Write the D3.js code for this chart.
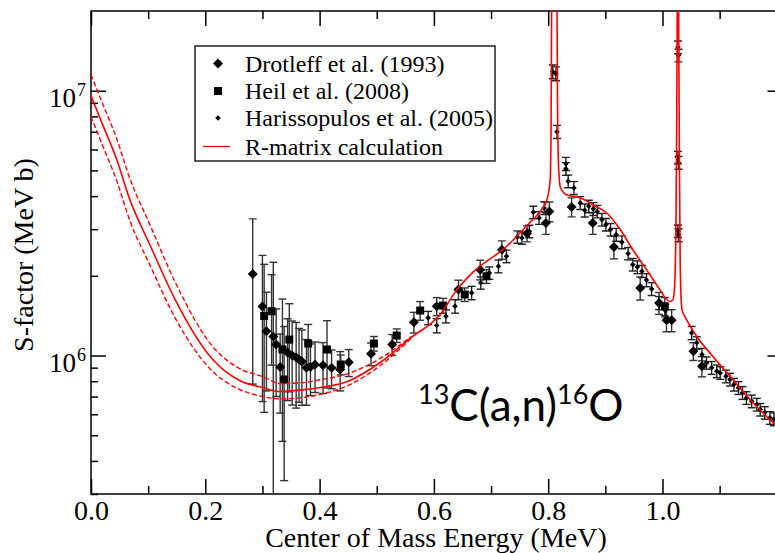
<!DOCTYPE html>
<html>
<head>
<meta charset="utf-8">
<script src="https://cdn.jsdelivr.net/npm/d3@7"></script>
<style>
  body { margin: 0; background: #fff; }
  svg { display: block; }
</style>
</head>
<body>
<svg id="chart" width="775" height="553"></svg>
<script>
// S-factor values are in units of 10^6 MeV b, energies in MeV

// Drotleff et al. (1993)
var drot_E = [0.283, 0.300, 0.307, 0.319, 0.324, 0.331, 0.344, 0.352, 0.359, 0.364, 0.369, 0.377, 0.384, 0.392, 0.406, 0.421, 0.436, 0.451, 0.490, 0.527, 0.565, 0.605, 0.643, 0.681, 0.719, 0.763, 0.796, 0.802, 0.841, 0.878, 0.915, 0.961, 0.994, 1.007, 1.016, 1.054, 1.069];
var drot_S = [2.03, 1.53, 1.235, 1.18, 1.10, 0.906, 1.026, 1.0, 0.983, 0.966, 0.949, 0.899, 0.906, 0.925, 0.919, 0.899, 0.885, 0.943, 1.015, 1.10, 1.336, 1.535, 1.775, 2.11, 2.51, 2.887, 3.168, 3.50, 3.64, 3.168, 2.568, 1.80, 1.58, 1.36, 1.36, 1.038, 0.911];
var drot_err = [1.25, 0.86, 0.5, 1.07, 0.4, 0.3, 0.35, 0.35, 0.35, 0.3, 0.3, 0.25, 0.2, 0.2, 0.2, 0.15, 0.15, 0.11, 0.1, 0.1, 0.12, 0.12, 0.15, 0.18, 0.2, 0.2, 0.3, 0.3, 0.3, 0.3, 0.25, 0.18, 0.15, 0.13, 0.13, 0.08, 0.08];

// Heil et al. (2008)
var heil_E = [0.303, 0.316, 0.335, 0.338, 0.347, 0.380, 0.413, 0.437, 0.495, 0.535, 0.576, 0.616, 0.654, 0.692, 1.004];
var heil_S = [1.41, 1.47, 1.054, 0.812, 1.149, 1.11, 1.054, 0.925, 1.11, 1.19, 1.479, 1.544, 1.70, 1.992, 1.535];
var heil_err = [0.8, 0.55, 0.58, 0.475, 0.42, 0.2, 0.3, 0.08, 0.07, 0.07, 0.12, 0.1, 0.1, 0.12, 0.12];

// Harissopulos et al. (2005)
var hari_E = [0.590, 0.605, 0.621, 0.637, 0.666, 0.682, 0.697, 0.713, 0.727, 0.746, 0.754, 0.767, 0.774, 0.784, 0.793, 0.808, 0.8136, 0.8154, 0.831, 0.831, 0.835, 0.845, 0.856, 0.864, 0.871, 0.879, 0.886, 0.894, 0.901, 0.909, 0.919, 0.929, 0.940, 0.948, 0.956, 0.964, 0.972, 0.981, 0.994, 1.005, 1.027, 1.028, 1.027, 1.028, 1.027, 1.028, 1.051, 1.060, 1.069, 1.077, 1.086, 1.095, 1.101, 1.111, 1.118, 1.125, 1.133, 1.140, 1.147, 1.156, 1.165, 1.171, 1.179, 1.188, 1.195];
var hari_S = [1.388, 1.298, 1.408, 1.535, 1.725, 1.881, 2.051, 2.173, 2.371, 2.805, 2.781, 2.945, 3.474, 3.309, 3.609, 11.8, 11.6, 7.0, 5.30, 5.07, 4.55, 4.295, 3.77, 3.535, 3.66, 3.58, 3.50, 3.26, 3.122, 2.99, 2.861, 2.68, 2.427, 2.205, 2.158, 2.08, 1.928, 1.785, 1.58, 1.479, 14.6, 13.6, 5.6, 5.35, 2.95, 2.85, 1.218, 1.117, 1.009, 0.938, 0.899, 0.873, 0.860, 0.835, 0.812, 0.777, 0.755, 0.723, 0.692, 0.672, 0.653, 0.625, 0.608, 0.582, 0.575];
var hari_err = [0.08, 0.08, 0.08, 0.09, 0.1, 0.1, 0.11, 0.12, 0.13, 0.15, 0.15, 0.16, 0.19, 0.18, 0.2, 0.7, 0.7, 0.4, 0.3, 0.28, 0.25, 0.24, 0.21, 0.2, 0.2, 0.2, 0.19, 0.18, 0.17, 0.16, 0.16, 0.15, 0.13, 0.12, 0.12, 0.11, 0.11, 0.1, 0.09, 0.08, 0.8, 0.75, 0.3, 0.3, 0.16, 0.16, 0.07, 0.06, 0.055, 0.05, 0.05, 0.048, 0.047, 0.046, 0.045, 0.043, 0.042, 0.04, 0.038, 0.037, 0.036, 0.034, 0.033, 0.032, 0.032];

// R-matrix calculation (central)
var rm_E = [0, 0.02, 0.045, 0.068, 0.103, 0.147, 0.213, 0.26, 0.30, 0.331, 0.37, 0.401, 0.45, 0.506, 0.56, 0.611, 0.640, 0.668, 0.727, 0.762, 0.786, 0.797, 0.8035, 0.805, 0.806, 0.8108, 0.8155, 0.8165, 0.8185, 0.8215, 0.832, 0.856, 0.878, 0.902, 0.926, 0.948, 0.972, 0.992, 1.013, 1.018, 1.021, 1.0235, 1.025, 1.026, 1.027, 1.028, 1.0295, 1.031, 1.034, 1.042, 1.060, 1.088, 1.123, 1.153, 1.182, 1.197, 1.21];
var rm_S = [9.57, 7.48, 5.50, 3.88, 2.62, 1.63, 0.966, 0.805, 0.757, 0.731, 0.742, 0.757, 0.80, 0.941, 1.169, 1.428, 1.77, 2.06, 2.58, 3.08, 3.51, 3.82, 4.6, 7, 20, 80, 20, 8, 5, 4.3, 4.05, 3.94, 3.71, 3.46, 2.99, 2.51, 2.11, 1.82, 1.60, 1.62, 1.8, 3, 8, 25, 80, 25, 6, 2.2, 1.49, 1.37, 1.18, 0.994, 0.812, 0.682, 0.590, 0.550, 0.52];

// R-matrix uncertainty band (dashed)
var band_E = [0, 0.02, 0.045, 0.068, 0.103, 0.147, 0.213, 0.26, 0.30, 0.331, 0.37, 0.401, 0.45, 0.506, 0.56];
var band_hi = [11.5, 8.97, 6.59, 4.66, 3.12, 1.90, 1.08, 0.893, 0.833, 0.784, 0.79, 0.81, 0.855, 0.975, 1.18];
var band_lo = [8.0, 6.23, 4.57, 3.23, 2.20, 1.39, 0.87, 0.745, 0.70, 0.686, 0.694, 0.713, 0.771, 0.916, 1.16];

var x_ticks = [0, 0.2, 0.4, 0.6, 0.8, 1.0, 1.2];
var x_labels = ["0.0", "0.2", "0.4", "0.6", "0.8", "1.0", ""];
var x_minor = [0.1, 0.3, 0.5, 0.7, 0.9, 1.1];
var y_major = [1, 10];
var y_minor = [0.3, 0.4, 0.5, 0.6, 0.7, 0.8, 0.9, 2, 3, 4, 5, 6, 7, 8, 9];
var legend_labels = ["Drotleff et al. (1993)", "Heil et al. (2008)", "Harissopulos et al. (2005)", "R-matrix calculation"];

var serif = "'Liberation Serif', 'Times New Roman', serif";
var red = "#ff0000";

var svg = d3.select("#chart");

var plot_left = 91, plot_right = 782.5, plot_top = 11, plot_bottom = 494;

var x = d3.scaleLinear().domain([0, 1.21]).range([plot_left, plot_right]);
var y = d3.scaleLog().domain([0.3, 20]).range([plot_bottom, plot_top]);

svg.append("defs").append("clipPath").attr("id", "plot-clip")
  .append("rect")
  .attr("x", plot_left).attr("y", plot_top)
  .attr("width", plot_right - plot_left).attr("height", plot_bottom - plot_top);

// axes, all ticks point inward
function styleAxis(g) {
  g.select(".domain").remove();
  g.selectAll(".tick line").attr("stroke", "#000").attr("stroke-width", 1.5);
  g.selectAll("text").attr("font-family", serif).attr("font-size", 28).attr("fill", "#000");
}

svg.append("g").attr("transform", "translate(0," + plot_bottom + ")")
  .call(d3.axisBottom(x).tickValues(x_ticks).tickSize(-15).tickPadding(6)
    .tickFormat(function(d, i) { return x_labels[i]; }))
  .call(styleAxis);
svg.append("g").attr("transform", "translate(0," + plot_bottom + ")")
  .call(d3.axisBottom(x).tickValues(x_minor).tickSize(-8).tickFormat(""))
  .call(styleAxis);
svg.append("g").attr("transform", "translate(0," + plot_top + ")")
  .call(d3.axisTop(x).tickValues(x_ticks).tickSize(-15).tickFormat(""))
  .call(styleAxis);
svg.append("g").attr("transform", "translate(0," + plot_top + ")")
  .call(d3.axisTop(x).tickValues(x_minor).tickSize(-8).tickFormat(""))
  .call(styleAxis);

svg.append("g").attr("transform", "translate(" + plot_left + ",0)")
  .call(d3.axisLeft(y).tickValues(y_major).tickSize(-15).tickFormat(""))
  .call(styleAxis);
svg.append("g").attr("transform", "translate(" + plot_left + ",0)")
  .call(d3.axisLeft(y).tickValues(y_minor).tickSize(-7).tickFormat(""))
  .call(styleAxis);
svg.append("g").attr("transform", "translate(" + plot_right + ",0)")
  .call(d3.axisRight(y).tickValues(y_major).tickSize(-15).tickFormat(""))
  .call(styleAxis);
svg.append("g").attr("transform", "translate(" + plot_right + ",0)")
  .call(d3.axisRight(y).tickValues(y_minor).tickSize(-7).tickFormat(""))
  .call(styleAxis);

// y tick labels as 10^n
var y_labels = svg.append("g");
y_major.forEach(function(v) {
  var t = y_labels.append("text")
    .attr("font-family", serif)
    .attr("fill", "#000");
  t.append("tspan").attr("x", 49).attr("y", y(v) + 16).attr("font-size", 27).text("10");
  t.append("tspan").attr("x", 77).attr("y", y(v) + 5).attr("font-size", 18).text(Math.round(Math.log10(v)) + 6);
});

// frame
svg.append("rect")
  .attr("x", plot_left).attr("y", plot_top)
  .attr("width", plot_right - plot_left).attr("height", plot_bottom - plot_top)
  .attr("fill", "none").attr("stroke", "#000").attr("stroke-width", 1.5);

// axis titles
svg.append("text")
  .attr("transform", "translate(33,255) rotate(-90)")
  .attr("text-anchor", "middle")
  .attr("font-family", serif).attr("font-size", 28)
  .text("S-factor (MeV b)");
svg.append("text")
  .attr("x", 436).attr("y", 547)
  .attr("text-anchor", "middle")
  .attr("font-family", serif).attr("font-size", 28)
  .text("Center of Mass Energy (MeV)");

var plot = svg.append("g").attr("clip-path", "url(#plot-clip)");

// error bars
function drawErrors(E, S, err, color) {
  var g = plot.append("g").attr("stroke", color).attr("stroke-width", 1.4);
  E.forEach(function(e, i) {
    var cx = x(e);
    var lo = Math.max(S[i] - err[i], 0.2);
    var hi = S[i] + err[i];
    g.append("line").attr("x1", cx).attr("x2", cx).attr("y1", y(lo)).attr("y2", y(hi));
    g.append("line").attr("x1", cx - 4).attr("x2", cx + 4).attr("y1", y(hi)).attr("y2", y(hi));
    if (S[i] - err[i] > 0.2) {
      g.append("line").attr("x1", cx - 4).attr("x2", cx + 4).attr("y1", y(lo)).attr("y2", y(lo));
    }
  });
}

drawErrors(drot_E, drot_S, drot_err, "#333");
drawErrors(heil_E, heil_S, heil_err, "#333");
drawErrors(hari_E, hari_S, hari_err, "#222");

var diamond = function(r) { return "M0," + (-r) + "L" + r + ",0L0," + r + "L" + (-r) + ",0Z"; };

plot.append("g").selectAll("path")
  .data(drot_E)
  .join("path")
  .attr("transform", function(d, i) { return "translate(" + x(d) + "," + y(drot_S[i]) + ")"; })
  .attr("d", diamond(5))
  .attr("fill", "#000");

plot.append("g").selectAll("rect")
  .data(heil_E)
  .join("rect")
  .attr("x", function(d) { return x(d) - 4; })
  .attr("y", function(d, i) { return y(heil_S[i]) - 4; })
  .attr("width", 8).attr("height", 8)
  .attr("fill", "#000");

plot.append("g").selectAll("path")
  .data(hari_E)
  .join("path")
  .attr("transform", function(d, i) { return "translate(" + x(d) + "," + y(hari_S[i]) + ")"; })
  .attr("d", diamond(2.8))
  .attr("fill", "#000");

// R-matrix curves
var line = d3.line()
  .x(function(d) { return x(d[0]); })
  .y(function(d) { return y(d[1]); })
  .curve(d3.curveMonotoneX);

plot.append("path")
  .datum(band_E.map(function(e, i) { return [e, band_hi[i]]; }))
  .attr("d", line)
  .attr("fill", "none").attr("stroke", red).attr("stroke-width", 1.4)
  .attr("stroke-dasharray", "5,2.5");
plot.append("path")
  .datum(band_E.map(function(e, i) { return [e, band_lo[i]]; }))
  .attr("d", line)
  .attr("fill", "none").attr("stroke", red).attr("stroke-width", 1.4)
  .attr("stroke-dasharray", "5,2.5");
plot.append("path")
  .datum(rm_E.map(function(e, i) { return [e, rm_S[i]]; }))
  .attr("d", line)
  .attr("fill", "none").attr("stroke", red).attr("stroke-width", 1.6);

// legend
var legend = svg.append("g");
legend.append("rect")
  .attr("x", 195).attr("y", 46).attr("width", 300).attr("height", 115)
  .attr("fill", "#fff").attr("stroke", "#000").attr("stroke-width", 1.3);
var row_y = [63.5, 91, 118, 146.5];
legend.append("path").attr("transform", "translate(218," + row_y[0] + ")").attr("d", diamond(5)).attr("fill", "#000");
legend.append("rect").attr("x", 214).attr("y", row_y[1] - 4).attr("width", 8).attr("height", 8).attr("fill", "#000");
legend.append("path").attr("transform", "translate(218," + row_y[2] + ")").attr("d", diamond(2.8)).attr("fill", "#000");
legend.append("line").attr("x1", 203).attr("x2", 230).attr("y1", row_y[3]).attr("y2", row_y[3])
  .attr("stroke", red).attr("stroke-width", 1.3);
legend.selectAll("text.lab")
  .data(legend_labels)
  .join("text")
  .attr("class", "lab")
  .attr("x", 245)
  .attr("y", function(d, i) { return row_y[i] + 8; })
  .attr("font-family", serif).attr("font-size", 24)
  .text(function(d) { return d; });

// reaction label
var reaction = svg.append("text")
  .attr("x", 418).attr("y", 421)
  .attr("font-family", "Lato, 'Open Sans', sans-serif")
  .attr("fill", "#000");
reaction.append("tspan").attr("font-size", 27).attr("dy", -17).text("13");
reaction.append("tspan").attr("font-size", 44).attr("dy", 17).text("C(a,n)");
reaction.append("tspan").attr("font-size", 27).attr("dy", -17).text("16");
reaction.append("tspan").attr("font-size", 44).attr("dy", 17).text("O");
</script>
</body>
</html>
